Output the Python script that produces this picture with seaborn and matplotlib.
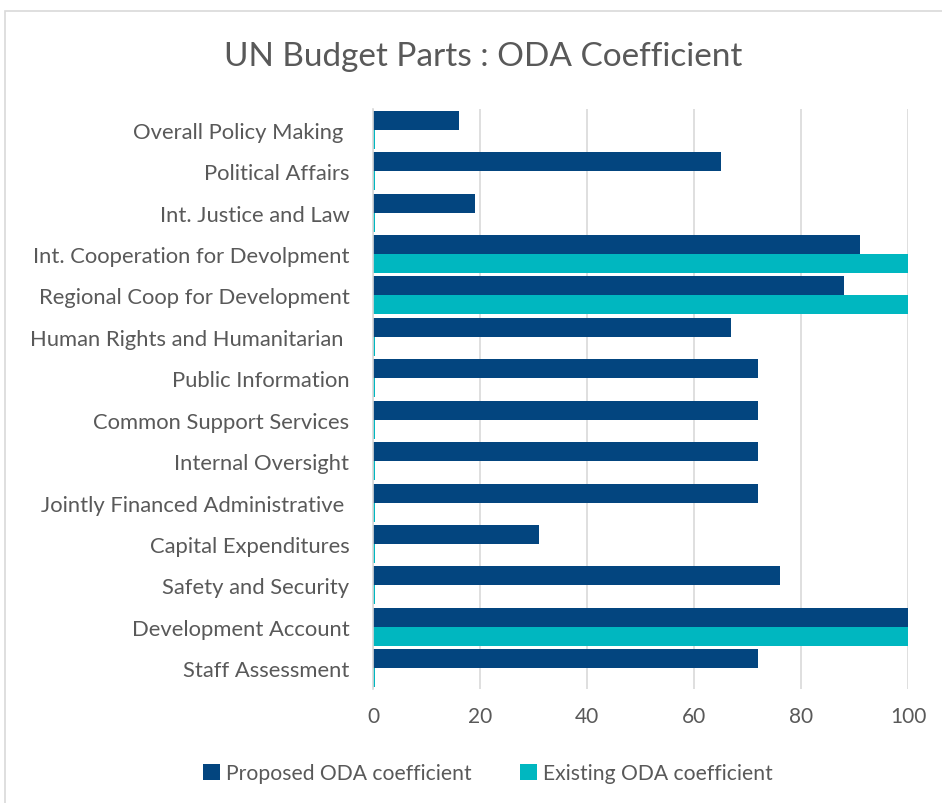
import matplotlib
matplotlib.use("Agg")
import matplotlib.pyplot as plt
import seaborn as sns
import pandas as pd
from matplotlib.patches import Rectangle, Patch

categories = [
    "Overall Policy Making ",
    "Political Affairs",
    "Int. Justice and Law",
    "Int. Cooperation for Devolpment",
    "Regional Coop for Development",
    "Human Rights and Humanitarian ",
    "Public Information",
    "Common Support Services",
    "Internal Oversight",
    "Jointly Financed Administrative ",
    "Capital Expenditures",
    "Safety and Security",
    "Development Account",
    "Staff Assessment",
]
proposed = [16, 65, 19, 91, 88, 67, 72, 72, 72, 72, 31, 76, 100, 72]
existing = [0.4, 0.4, 0.4, 100, 100, 0.4, 0.4, 0.4, 0.4, 0.4, 0.4, 0.4, 100, 0.4]
series_names = ["Proposed ODA coefficient", "Existing ODA coefficient"]
x_ticks = [0, 20, 40, 60, 80, 100]

df = pd.DataFrame({
    "category": categories * 2,
    "series": [series_names[0]] * len(categories) + [series_names[1]] * len(categories),
    "value": proposed + existing,
})

sns.set_theme(style="white")
plt.rcParams["font.family"] = ["Lato", "DejaVu Sans"]
text_color = "#595959"
colors = ["#03457F", "#00B7C0"]

fig = plt.figure(figsize=(9.42, 8.04), dpi=100)
ax = fig.add_axes([373 / 942, 1 - 690 / 804, (908 - 373) / 942, (690 - 110) / 804])

sns.barplot(data=df, x="value", y="category", hue="series", orient="h",
            palette=colors, width=0.92, gap=0, ax=ax, legend=False,
            saturation=1, edgecolor="none", linewidth=0)

ax.set_xlim(0, 100)
ax.set_ylim(len(categories) - 0.5, -0.5)
ax.set_xticks(x_ticks)
ax.set_xticklabels([str(t) for t in x_ticks], color=text_color, fontsize=15)
ax.tick_params(axis="y", labelsize=15.8, labelcolor=text_color, length=0, pad=17)
ax.tick_params(axis="x", length=0, pad=12)
ax.set_xlabel("")
ax.set_ylabel("")
ax.grid(axis="x", color="#D9D9D9", linewidth=1.2)
ax.set_axisbelow(True)
for s in ["top", "right", "bottom"]:
    ax.spines[s].set_visible(False)
ax.spines["left"].set_color("#D9D9D9")
ax.spines["left"].set_linewidth(1.2)

fig.text(483 / 942, 1 - 57 / 804, "UN Budget Parts : ODA Coefficient", ha="center", va="center",
         fontsize=24, color=text_color)

handles = [Patch(facecolor=c, edgecolor="none") for c in colors]
fig.legend(handles, series_names, loc="center", bbox_to_anchor=(488 / 942, 1 - 774 / 804),
           ncol=2, frameon=False, fontsize=15.2, labelcolor=text_color,
           handlelength=0.8, handleheight=0.8, handletextpad=0.3, columnspacing=2.3)

fig.patches.append(Rectangle((5 / 942, -0.01), 1.0, 1 - 12 / 804 + 0.01, transform=fig.transFigure,
                             fill=False, edgecolor="#D9D9D9", linewidth=1.2, zorder=0))

fig.savefig("out.png", dpi=100)
